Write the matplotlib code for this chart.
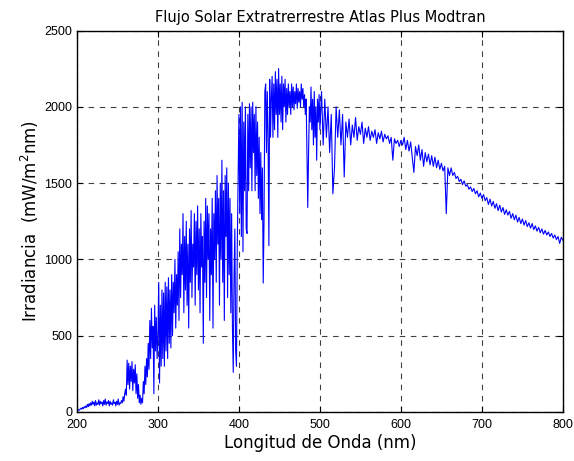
import numpy as np
import matplotlib
matplotlib.use("Agg")
import matplotlib.pyplot as plt

# irradiancia (mW/m^2 nm), por tramos
irr_200_259 = [5, 10, 15, 12, 20, 25, 18, 30, 22, 35,
               28, 40, 30, 50, 35, 55, 40, 60, 45, 70,
               50, 65, 40, 75, 45, 60, 50, 80, 45, 70,
               55, 65, 40, 75, 50, 85, 45, 65, 55, 75,
               40, 70, 50, 60, 45, 80, 55, 65, 40, 70,
               50, 85, 45, 60, 55, 75, 60, 100, 70, 120]

irr_260_299 = [150, 110, 340, 180, 320, 150, 300, 200, 330, 140,
               280, 190, 310, 120, 250, 90, 180, 60, 110, 50,
               90, 60, 200, 120, 300, 180, 350, 230, 450, 280,
               600, 350, 680, 420, 560, 120, 700, 400, 620, 350]

irr_300_399 = [500, 850, 190, 700, 300, 800, 350, 780, 300, 850,
               400, 820, 350, 880, 450, 800, 420, 900, 500, 850,
               650, 1000, 550, 900, 700, 1050, 600, 1200, 750, 1100,
               900, 1300, 650, 1150, 800, 1250, 700, 1100, 550, 1200,
               850, 1320, 750, 1100, 950, 1300, 700, 1250, 900, 1350,
               800, 1200, 650, 1300, 950, 1150, 450, 1250, 850, 1400,
               750, 1350, 1000, 1300, 600, 1200, 900, 1400, 550, 1300,
               1000, 1450, 850, 1550, 1100, 1400, 700, 1500, 1000, 1650,
               850, 1450, 600, 1550, 1150, 1600, 750, 1500, 900, 1400,
               650, 1300, 550, 260, 900, 1200, 400, 300, 1100, 1500]

irr_400_499 = [1950, 1300, 2000, 1150, 2030, 1050, 1900, 1450, 2000, 1200,
               1170, 1950, 1450, 2020, 1600, 2000, 1450, 2030, 1700, 1950,
               1450, 2000, 1550, 1900, 1400, 1800, 1300, 1700, 1260, 1600,
               845, 1250, 2100, 2150, 1700, 2100, 1800, 1090, 2180, 1800,
               2050, 2200, 1800, 2150, 1850, 2230, 1950, 2180, 1800, 2250,
               1950, 2150, 1900, 2200, 1850, 2150, 2000, 2180, 1900, 2120,
               1950, 2150, 2000, 2100, 1950, 2150, 2000, 2130, 1980, 2100,
               2020, 2150, 1990, 2120, 2030, 2100, 2000, 2150, 2050, 2120,
               2000, 2080, 1950, 2050, 1700, 1340, 1700, 2000, 1900, 2130,
               1850, 2050, 1750, 2100, 1800, 2000, 1650, 2050, 1900, 2080]

# cada 2 nm
irr_500_600 = [1850, 2100, 1750, 2050, 1800, 2000, 1700, 1950, 1430, 1600,
               2000, 1800, 1980, 1750, 1950, 1540, 1900, 1800, 1920, 1750,
               1880, 1800, 1930, 1780, 1870, 1820, 1900, 1760, 1860, 1800,
               1870, 1780, 1840, 1800, 1850, 1760, 1830, 1790, 1840, 1770,
               1820, 1790, 1810, 1760, 1800, 1650, 1790, 1760, 1780, 1740,
               1780]

irr_602_800 = [1750, 1800, 1720, 1780, 1710, 1770, 1670, 1570, 1740, 1680,
               1750, 1650, 1720, 1610, 1700, 1640, 1690, 1620, 1680, 1610,
               1670, 1600, 1650, 1590, 1630, 1580, 1610, 1300, 1600, 1550,
               1600, 1550, 1570, 1530, 1545, 1510, 1525, 1490, 1515, 1480,
               1490, 1460, 1475, 1445, 1465, 1430, 1450, 1410, 1435, 1400,
               1425, 1385, 1405, 1360, 1395, 1350, 1380, 1335, 1365, 1320,
               1355, 1310, 1340, 1295, 1325, 1290, 1315, 1270, 1300, 1260,
               1290, 1245, 1275, 1235, 1265, 1225, 1255, 1215, 1240, 1205,
               1235, 1195, 1220, 1185, 1210, 1175, 1200, 1165, 1190, 1160,
               1180, 1150, 1170, 1140, 1160, 1130, 1150, 1105, 1145, 1125]

lam = np.concatenate([np.arange(200, 260), np.arange(260, 300), np.arange(300, 400),
                      np.arange(400, 500), np.arange(500, 601, 2), np.arange(602, 801, 2)])
irr = np.concatenate([irr_200_259, irr_260_299, irr_300_399,
                      irr_400_499, irr_500_600, irr_602_800])

fig = plt.figure(figsize=(5.74, 4.61), dpi=100)
ax = fig.add_axes([0.134, 0.1063, 0.8467, 0.8275])

ax.plot(lam, irr, color=(0, 0, 1), linewidth=0.8)

ax.set_xlim(200, 800)
ax.set_ylim(0, 2500)
ax.set_xticks(range(200, 801, 100))
ax.set_yticks(range(0, 2501, 500))
ax.grid(True, color="black", linestyle=(0, (5, 5)), linewidth=0.8, alpha=0.75)
ax.tick_params(direction="in", top=True, right=True, length=4, width=0.8,
               labelsize=9)
ax.tick_params(axis="x", pad=5)
for lbl in ax.get_xticklabels() + ax.get_yticklabels():
    lbl.set_family("Liberation Sans")
for s in ax.spines.values():
    s.set_linewidth(1.0)

ax.set_title("Flujo Solar Extratrerrestre Atlas Plus Modtran", fontsize=10.5, pad=6)
ax.set_xlabel("Longitud de Onda (nm)", fontsize=12, labelpad=2)
ax.set_ylabel(r"Irradiancia  (mW/m$^2$nm)", fontsize=12, labelpad=2)

fig.savefig("out.png", dpi=100)
